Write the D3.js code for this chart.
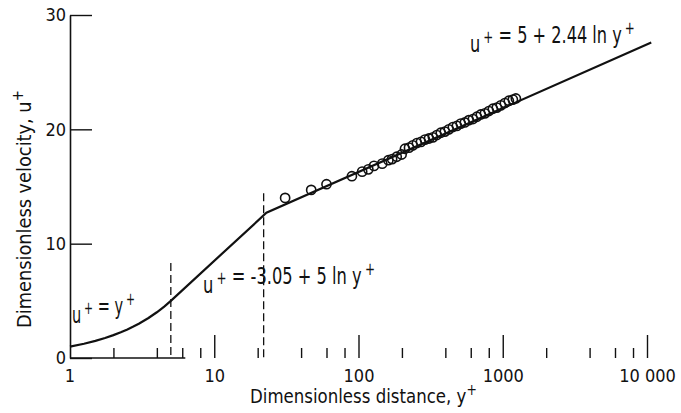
<!DOCTYPE html>
<html>
<head>
<meta charset="utf-8">
<script src="https://cdn.jsdelivr.net/npm/d3@7"></script>
<style>
  body { margin: 0; background: #fff; }
  text { font-family: "Liberation Sans Narrow", "DejaVu Sans Condensed", "Arial Narrow", sans-serif; fill: #111; }
</style>
</head>
<body>
<svg width="681" height="413"></svg>
<script>
const pointYPlus = [31, 47, 60, 90, 106, 117, 128, 146, 161, 171, 184, 199,
  210, 224, 238, 254, 271, 289, 308, 328, 349, 372, 397, 423, 451, 481, 512,
  546, 582, 621, 662, 705, 752, 801, 854, 910, 970, 1034, 1102, 1175, 1233];
const pointUPlus = [14.0, 14.7, 15.2, 15.9, 16.3, 16.5, 16.8, 17.0, 17.3, 17.4, 17.6, 17.8,
  18.3, 18.4, 18.6, 18.8, 18.9, 19.1, 19.2, 19.3, 19.5, 19.7, 19.8, 20.0, 20.2, 20.3, 20.5,
  20.6, 20.8, 20.9, 21.1, 21.3, 21.4, 21.6, 21.8, 21.9, 22.1, 22.3, 22.5, 22.6, 22.7];

// velocity profile line (sublayer, buffer, log law)
const profileYPlus = [1, 1.25, 1.5, 1.75, 2, 2.25, 2.5, 2.75, 3, 3.5, 4, 4.5, 5, 23, 10700];
const profileUPlus = [1, 1.25, 1.5, 1.75, 2, 2.25, 2.5, 2.75, 3, 3.5, 4, 4.5, 5, 12.7, 27.6];

// dashed region boundaries
const boundaryYPlus = [5, 22];
const boundaryTop = [8.3, 14.4];

const xMajor = [1, 10, 100, 1000, 10000];
const xMajorLabels = ["1", "10", "100", "1000", "10 000"];
const xMinorMult = [2, 4, 6, 8];
const yTicks = [0, 10, 20, 30];

var svg = d3.select("svg");

var x = d3.scaleLog().domain([1, 10000]).range([70, 647]);
var y = d3.scaleLinear().domain([0, 30]).range([358, 15]);

var xMinor = [];
[1, 10, 100, 1000].forEach(function(dec) {
  xMinorMult.forEach(function(m) { xMinor.push(dec * m); });
});

// squeeze a text element horizontally so it spans the given width
function fitWidth(t, px, py, width) {
  var w0 = t.node().getBBox().width;
  t.attr("x", 0).attr("y", 0)
    .attr("transform", "translate(" + px + "," + py + ") scale(" + (width / w0) + ",1)");
}

// x axis: ticks point up, labels underneath
var gx = svg.append("g").attr("transform", "translate(0," + y(0) + ")");
gx.call(d3.axisBottom(x).tickValues(xMajor.slice(1)).tickSize(-23).tickPadding(11)
  .tickFormat(function(d) { return xMajorLabels[xMajor.indexOf(d)]; }));
gx.call(function(g) { g.select(".domain").remove(); });
var gxm = svg.append("g").attr("transform", "translate(0," + y(0) + ")");
gxm.call(d3.axisBottom(x).tickValues(xMinor).tickSize(-10).tickFormat(""));
gxm.select(".domain").remove();
gx.append("text").attr("x", x(1)).attr("y", 11).attr("dy", "0.71em")
  .attr("text-anchor", "middle").text("1");
// the bottom rule only survives near the origin in the original
svg.append("line").attr("x1", x(1)).attr("x2", x(6.3))
  .attr("y1", y(0)).attr("y2", y(0)).attr("stroke", "#111").attr("stroke-width", 1.6);

// y axis
var gy = svg.append("g").attr("transform", "translate(" + x(1) + ",0)");
gy.call(d3.axisLeft(y).tickValues(yTicks).tickSize(-22).tickSizeOuter(0).tickPadding(4));

svg.selectAll(".tick line").attr("stroke", "#111").attr("stroke-width", 1.4);
svg.selectAll(".domain").attr("stroke", "#111").attr("stroke-width", 1.6);
svg.selectAll(".tick text").style("font-size", "18px").attr("fill", "#111");
gx.selectAll("text").style("font-size", "18px");

// axis titles
var yTitle = svg.append("text").style("font-size", "20px").text("Dimensionless velocity,  u");
yTitle.append("tspan").attr("dy", -8).style("font-size", "15px").text("+");
var yw = yTitle.node().getBBox().width;
yTitle.attr("transform", "translate(31,328) rotate(-90) scale(" + (238 / yw) + ",1)");

var xTitle = svg.append("text").style("font-size", "20px").text("Dimensionless distance,  y");
xTitle.append("tspan").attr("dy", -8).style("font-size", "15px").text("+");
fitWidth(xTitle, 250, 403, 227);

// dashed boundaries
svg.selectAll(".bound")
  .data(boundaryYPlus)
  .enter().append("line")
    .attr("class", "bound")
    .attr("x1", function(d) { return x(d); })
    .attr("x2", function(d) { return x(d); })
    .attr("y1", function(d, i) { return y(boundaryTop[i]); })
    .attr("y2", y(0))
    .attr("stroke", "#111")
    .attr("stroke-width", 1.3)
    .attr("stroke-dasharray", "8,4");

// profile line
var profile = profileYPlus.map(function(d, i) { return [d, profileUPlus[i]]; });
svg.append("path")
  .datum(profile)
  .attr("fill", "none")
  .attr("stroke", "#111")
  .attr("stroke-width", 2.2)
  .attr("d", d3.line()
    .x(function(d) { return x(d[0]); })
    .y(function(d) { return y(d[1]); }));

// data points
svg.selectAll(".pt")
  .data(pointYPlus)
  .enter().append("circle")
    .attr("class", "pt")
    .attr("cx", function(d) { return x(d); })
    .attr("cy", function(d, i) { return y(pointUPlus[i]); })
    .attr("r", 4.6)
    .attr("fill", "none")
    .attr("stroke", "#111")
    .attr("stroke-width", 1.6);

// equation labels
function equation(px, py, width, parts) {
  var t = svg.append("text").style("font-size", "23px");
  parts.forEach(function(p) {
    if (p.sup) {
      t.append("tspan").attr("dx", 4).attr("dy", -9).style("font-size", "17px").text(p.s);
      t.append("tspan").attr("dy", 9).text("");
    } else {
      t.append("tspan").text(p.s);
    }
  });
  fitWidth(t, px, py, width);
}
equation(72, 323, 63, [{s: "u"}, {s: "+", sup: true}, {s: " = y"}, {s: "+", sup: true}]);
equation(203, 293, 172, [{s: "u"}, {s: "+", sup: true}, {s: " = -3.05 + 5 ln y"}, {s: "+", sup: true}]);
equation(470, 52, 165, [{s: "u"}, {s: "+", sup: true}, {s: " = 5 + 2.44 ln y"}, {s: "+", sup: true}]);
</script>
</body>
</html>
